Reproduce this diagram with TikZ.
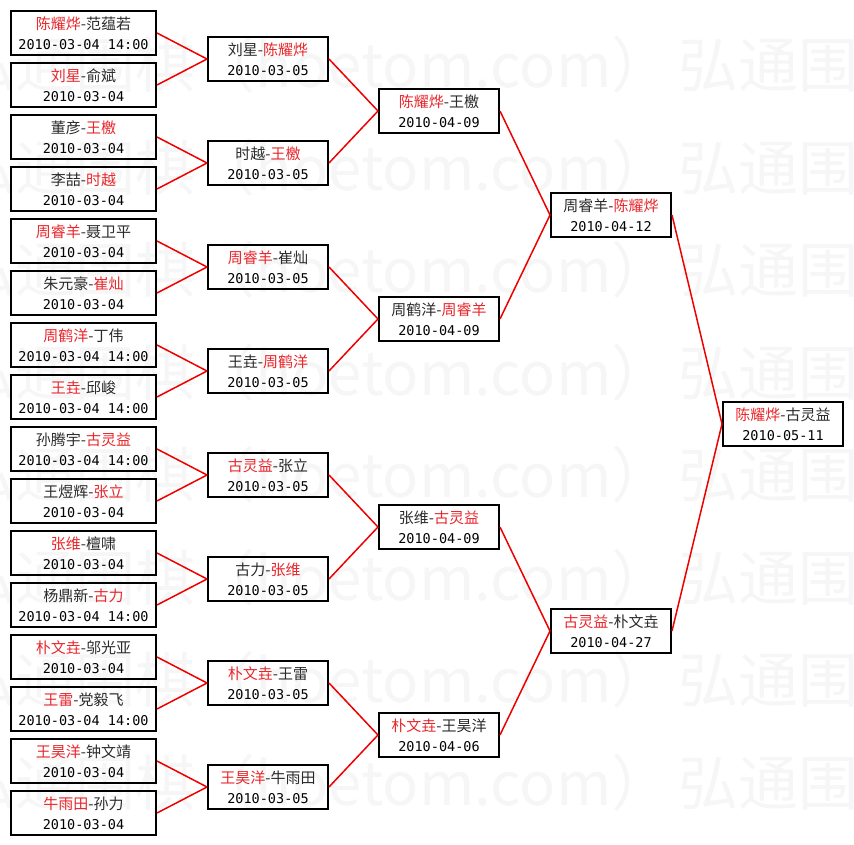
\documentclass[tikz,border=0pt]{standalone}
\usepackage{fontspec}
\newfontfamily\cjk{Noto Sans CJK SC}
\newfontfamily\datefont{DejaVu Sans Mono}
\definecolor{wred}{HTML}{E8262B}
\definecolor{lred}{HTML}{EE0000}
\definecolor{ink}{HTML}{2A2A2A}
\newcommand{\Rd}[1]{\textcolor{wred}{#1}}
\newcommand{\gm}[2]{#1\\{\color{black}\datefont\fontsize{13.5}{20}\selectfont #2}}
\begin{document}
\begin{tikzpicture}[x=1pt,y=-1pt,
  box/.style={draw=black,line width=2pt,inner sep=0pt,minimum height=44pt,align=center,text=ink,font=\cjk\fontsize{15}{20}\selectfont},
  cone/.style={box,minimum width=145pt},
  cn/.style={box,minimum width=120pt},
  link/.style={draw=lred,line width=1.5pt},
  wm/.style={text=black!3.5,font=\cjk\fontsize{60}{60}\selectfont,inner sep=0pt}]
\useasboundingbox (0,0) rectangle (854,845);
% watermark
\begin{scope}
\clip (0,0) rectangle (854,845);
\foreach \k in {0,...,7}{
  \node[wm,anchor=east] (wa\k) at (672,65+102.5*\k) {弘通围棋（hoetom.com）};
  \node[wm,anchor=west] (wb\k) at (678,65+102.5*\k) {弘通围棋};
}
\end{scope}
% round 1
\node[cone] (a1)  at (83.5,33)  {\gm{\Rd{陈耀烨}-范蕴若}{2010-03-04 14:00}};
\node[cone] (a2)  at (83.5,85)  {\gm{\Rd{刘星}-俞斌}{2010-03-04}};
\node[cone] (a3)  at (83.5,137) {\gm{董彦-\Rd{王檄}}{2010-03-04}};
\node[cone] (a4)  at (83.5,189) {\gm{李喆-\Rd{时越}}{2010-03-04}};
\node[cone] (a5)  at (83.5,241) {\gm{\Rd{周睿羊}-聂卫平}{2010-03-04}};
\node[cone] (a6)  at (83.5,293) {\gm{朱元豪-\Rd{崔灿}}{2010-03-04}};
\node[cone] (a7)  at (83.5,345) {\gm{\Rd{周鹤洋}-丁伟}{2010-03-04 14:00}};
\node[cone] (a8)  at (83.5,397) {\gm{\Rd{王垚}-邱峻}{2010-03-04 14:00}};
\node[cone] (a9)  at (83.5,449) {\gm{孙腾宇-\Rd{古灵益}}{2010-03-04 14:00}};
\node[cone] (a10) at (83.5,501) {\gm{王煜辉-\Rd{张立}}{2010-03-04}};
\node[cone] (a11) at (83.5,553) {\gm{\Rd{张维}-檀啸}{2010-03-04}};
\node[cone] (a12) at (83.5,605) {\gm{杨鼎新-\Rd{古力}}{2010-03-04 14:00}};
\node[cone] (a13) at (83.5,657) {\gm{\Rd{朴文垚}-邬光亚}{2010-03-04}};
\node[cone] (a14) at (83.5,709) {\gm{\Rd{王雷}-党毅飞}{2010-03-04 14:00}};
\node[cone] (a15) at (83.5,761) {\gm{\Rd{王昊洋}-钟文靖}{2010-03-04}};
\node[cone] (a16) at (83.5,813) {\gm{\Rd{牛雨田}-孙力}{2010-03-04}};
% round 2
\node[cn] (b1) at (268,59)  {\gm{刘星-\Rd{陈耀烨}}{2010-03-05}};
\node[cn] (b2) at (268,163) {\gm{时越-\Rd{王檄}}{2010-03-05}};
\node[cn] (b3) at (268,267) {\gm{\Rd{周睿羊}-崔灿}{2010-03-05}};
\node[cn] (b4) at (268,371) {\gm{王垚-\Rd{周鹤洋}}{2010-03-05}};
\node[cn] (b5) at (268,475) {\gm{\Rd{古灵益}-张立}{2010-03-05}};
\node[cn] (b6) at (268,579) {\gm{古力-\Rd{张维}}{2010-03-05}};
\node[cn] (b7) at (268,683) {\gm{\Rd{朴文垚}-王雷}{2010-03-05}};
\node[cn] (b8) at (268,787) {\gm{\Rd{王昊洋}-牛雨田}{2010-03-05}};
% round 3
\node[cn] (c1) at (439,111) {\gm{\Rd{陈耀烨}-王檄}{2010-04-09}};
\node[cn] (c2) at (439,319) {\gm{周鹤洋-\Rd{周睿羊}}{2010-04-09}};
\node[cn] (c3) at (439,527) {\gm{张维-\Rd{古灵益}}{2010-04-09}};
\node[cn] (c4) at (439,735) {\gm{\Rd{朴文垚}-王昊洋}{2010-04-06}};
% round 4
\node[cn] (d1) at (611,215) {\gm{周睿羊-\Rd{陈耀烨}}{2010-04-12}};
\node[cn] (d2) at (611,631) {\gm{\Rd{古灵益}-朴文垚}{2010-04-27}};
% final
\node[cn] (e1) at (783,424) {\gm{\Rd{陈耀烨}-古灵益}{2010-05-11}};
% connectors
\foreach \i/\j in {1/1,2/1,3/2,4/2,5/3,6/3,7/4,8/4,9/5,10/5,11/6,12/6,13/7,14/7,15/8,16/8}
  \draw[link] (a\i.east) -- (b\j.west);
\foreach \i/\j in {1/1,2/1,3/2,4/2,5/3,6/3,7/4,8/4}
  \draw[link] (b\i.east) -- (c\j.west);
\foreach \i/\j in {1/1,2/1,3/2,4/2}
  \draw[link] (c\i.east) -- (d\j.west);
\foreach \i in {1,2}
  \draw[link] (d\i.east) -- (e1.west);
\end{tikzpicture}
\end{document}
